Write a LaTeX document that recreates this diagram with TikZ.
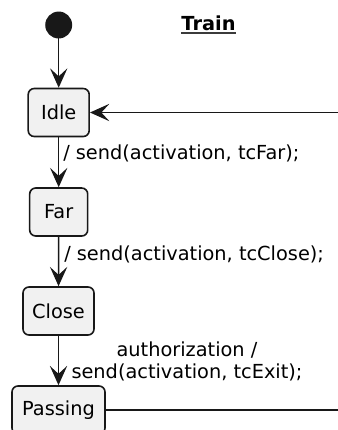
\documentclass[tikz,border=0pt]{standalone}
\usepackage{fontspec}
\setmainfont{DejaVu Sans}
\usetikzlibrary{arrows.meta}
\definecolor{stfill}{HTML}{F1F1F1}
\definecolor{stline}{HTML}{181818}
\tikzset{
  state/.style={draw=stline,fill=stfill,line width=1.2pt,rounded corners=4.5pt,
    minimum height=36pt,inner xsep=0pt,font=\fontsize{14.5}{17}\selectfont},
  trans/.style={line width=1.2pt,draw=stline,-{Stealth[length=14.5pt,width=13pt,inset=6pt]}},
  lbl/.style={font=\fontsize{14.5}{16.5}\selectfont,inner sep=0pt,align=center}
}
\begin{document}
\begin{tikzpicture}[x=0.75pt,y=-0.75pt]
  \useasboundingbox (0,0) rectangle (338,430);
  \fill[stline] (58.7,25) circle (10.1pt);
  \coordinate (init) at (58.7,37.5);
  \node[font=\fontsize{14.5}{17}\selectfont\bfseries,inner sep=0pt] (title) at (208.5,23) {Train};
  \draw[stline!85,line width=1.2pt] (title.south west) ++(0,-1.5pt) -- ([yshift=-1.5pt]title.south east);
  \node[state,minimum width=45.75pt] (idle) at (58.7,112.5) {Idle};
  \node[state,minimum width=43.5pt] (far) at (58.7,212) {Far};
  \node[state,minimum width=53.25pt] (close) at (58.5,311) {Close};
  \node[state,minimum width=69.75pt] (passing) at (58.5,410) {Passing};
  \coordinate (back) at (345,112.5);
  \coordinate (out) at (345,410);
  \draw[trans] (init) -- (idle);
  \draw[trans] (back) -- (idle);
  \draw[trans] (idle) -- (far);
  \draw[trans] (far) -- (close);
  \draw[trans] (close) -- (passing);
  \draw[line width=1.2pt,stline] (passing) -- (out);
  \node[lbl,anchor=west] (l1) at (63,153) {/ send(activation, tcFar);};
  \node[lbl,anchor=west] (l2) at (64,254) {/ send(activation, tcClose);};
  \node[lbl] (l3) at (187,361) {authorization /\\send(activation, tcExit);};
\end{tikzpicture}
\end{document}
